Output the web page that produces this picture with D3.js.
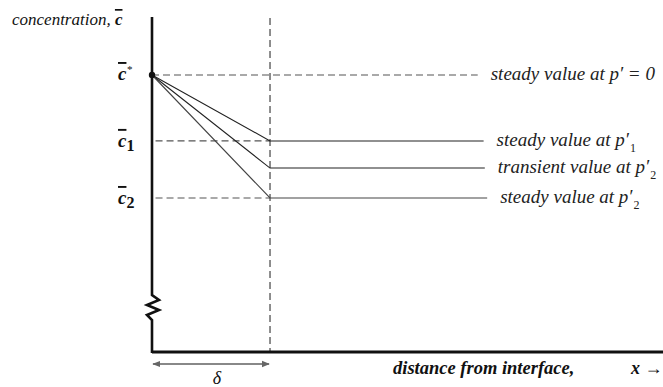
<!DOCTYPE html>
<html>
<head>
<meta charset="utf-8">
<script src="https://cdn.jsdelivr.net/npm/d3@7"></script>
<style>
  body { margin: 0; background: #fff; }
  svg { display: block; }
  .serif { font-family: "Liberation Serif", "DejaVu Serif", serif; }
</style>
</head>
<body>
<svg id="chart"></svg>
<script>
const W = 663, H = 387;

// concentration levels (c* = 1 at the interface)
const LEVEL_KEYS = ["cStar", "c1", "transient", "c2"];
const LEVEL_VALUES = [1.0, 0.762, 0.664, 0.556];
const LINE_END = [2.76, 2.81, 2.82, 2.84];   // in units of delta
const LINE_LABELS = ["steady value at p′ = 0", "steady value at p′₁", "transient value at p′₂", "steady value at p′₂"];
const DELTA = 1;
const X_MAX = 4.33;

const svg = d3.select("#chart").attr("width", W).attr("height", H);

const x = d3.scaleLinear().domain([0, X_MAX]).range([152, 663]);
const y = d3.scaleLinear().domain([0, 1]).range([352, 75]);

const levels = LEVEL_KEYS.map((k, i) => ({ key: k, v: LEVEL_VALUES[i], end: LINE_END[i], label: LINE_LABELS[i] }));

// vertical dashed line at delta
svg.append("line")
  .attr("x1", x(DELTA)).attr("x2", x(DELTA))
  .attr("y1", 18).attr("y2", y(0))
  .attr("stroke", "#444").attr("stroke-width", 1.2)
  .attr("stroke-dasharray", "7,4");

// dashed c* line all the way
svg.append("line")
  .attr("x1", x(0)).attr("x2", x(LINE_END[0]))
  .attr("y1", y(1)).attr("y2", y(1))
  .attr("stroke", "#555").attr("stroke-width", 1.2)
  .attr("stroke-dasharray", "7,4");

// dashed reference lines for c1 and c2 inside the film
levels.filter(d => d.key === "c1" || d.key === "c2").forEach(d => {
  svg.append("line")
    .attr("x1", x(0.03)).attr("x2", x(DELTA))
    .attr("y1", y(d.v)).attr("y2", y(d.v))
    .attr("stroke", "#555").attr("stroke-width", 1.2)
    .attr("stroke-dasharray", "7,4");
});

// profiles: sloped inside film, flat in bulk
const line = d3.line().x(p => x(p[0])).y(p => y(p[1]));
levels.filter(d => d.key !== "cStar").forEach(d => {
  svg.append("path")
    .attr("d", line([[0, 1], [DELTA, d.v], [d.end, d.v]]))
    .attr("fill", "none")
    .attr("stroke", d.key === "c2" ? "#444" : "#222")
    .attr("stroke-width", 1.1);
});

// right labels
svg.selectAll("text.lab").data(levels).join("text")
  .attr("class", "lab serif")
  .attr("x", d => x(d.end) + 13)
  .attr("y", d => y(d.v) + 5)
  .attr("font-size", 19)
  .attr("font-style", "italic")
  .attr("fill", "#222")
  .each(function (d) {
    const t = d3.select(this);
    const m = d.label.match(/^(.*p′)([₁₂])?(.*)$/);
    t.append("tspan").text(m[1]);
    if (m[2]) {
      t.append("tspan").attr("dx", 1).attr("dy", 6).attr("font-size", 12).attr("font-style", "normal")
        .text(m[2] === "₁" ? "1" : "2");
    }
    if (m[3]) t.append("tspan").text(m[3]);
  });

// y axis with break (zigzag)
const axisPts = [[152, 17], [152, 295], [159, 300], [147, 305], [159, 310], [147, 315], [152, 320], [152, 353]];
svg.append("path")
  .attr("d", d3.line()(axisPts))
  .attr("fill", "none").attr("stroke", "#111").attr("stroke-width", 2.6)
  .attr("stroke-linejoin", "miter");

// x axis
svg.append("line")
  .attr("x1", x(0)).attr("x2", x(X_MAX))
  .attr("y1", y(0)).attr("y2", y(0))
  .attr("stroke", "#111").attr("stroke-width", 3);

// interface dot
svg.append("circle").attr("cx", x(0)).attr("cy", y(1)).attr("r", 3.2).attr("fill", "#111");

// left level labels
const leftLabels = [["cStar", "*", "sup"], ["c1", "1", "sub"], ["c2", "2", "sub"]];
leftLabels.forEach(([k, s, kind]) => {
  const d = levels.find(l => l.key === k);
  const t = svg.append("text").attr("class", "serif")
    .attr("x", 118).attr("y", y(d.v) + (kind === "sup" ? 5 : 6))
    .attr("font-size", 19).attr("font-weight", "bold").attr("font-style", "italic")
    .attr("fill", "#111");
  t.append("tspan").text("c").style("text-decoration", "overline");
  if (kind === "sup") {
    t.append("tspan").attr("dy", -7).attr("font-size", 11).attr("font-weight", "normal").text("*");
  } else {
    t.append("tspan").attr("dy", 4).attr("font-size", 16).attr("font-style", "normal").text(s);
  }
});

// y title
const yt = svg.append("text").attr("class", "serif")
  .attr("x", 12).attr("y", 25).attr("font-size", 17).attr("font-style", "italic").attr("fill", "#111");
yt.append("tspan").text("concentration, ");
yt.append("tspan").attr("font-weight", "bold").style("text-decoration", "overline").text("c");

// x title
svg.append("text").attr("class", "serif")
  .attr("x", 393).attr("y", 374).attr("font-size", 18.5)
  .attr("font-weight", "bold").attr("font-style", "italic").attr("fill", "#111")
  .text("distance from interface,");
svg.append("text").attr("class", "serif")
  .attr("x", 631).attr("y", 374).attr("font-size", 18)
  .attr("font-weight", "bold").attr("font-style", "italic").attr("fill", "#111")
  .text("x →");

// delta arrow
const defs = svg.append("defs");
defs.append("marker").attr("id", "ah").attr("viewBox", "0 0 10 10")
  .attr("refX", 9).attr("refY", 5).attr("markerWidth", 4).attr("markerHeight", 4)
  .attr("orient", "auto-start-reverse")
  .append("path").attr("d", "M0,1 L10,5 L0,9 Z").attr("fill", "#666");
svg.append("line")
  .attr("x1", x(0) + 1).attr("x2", x(DELTA) - 1)
  .attr("y1", 364).attr("y2", 364)
  .attr("stroke", "#888").attr("stroke-width", 2)
  .attr("marker-start", "url(#ah)").attr("marker-end", "url(#ah)");
svg.append("text").attr("class", "serif")
  .attr("x", x(DELTA / 2) + 6).attr("y", 384).attr("text-anchor", "middle")
  .attr("font-size", 18).attr("font-style", "italic").attr("fill", "#111")
  .text("δ");
</script>
</body>
</html>
